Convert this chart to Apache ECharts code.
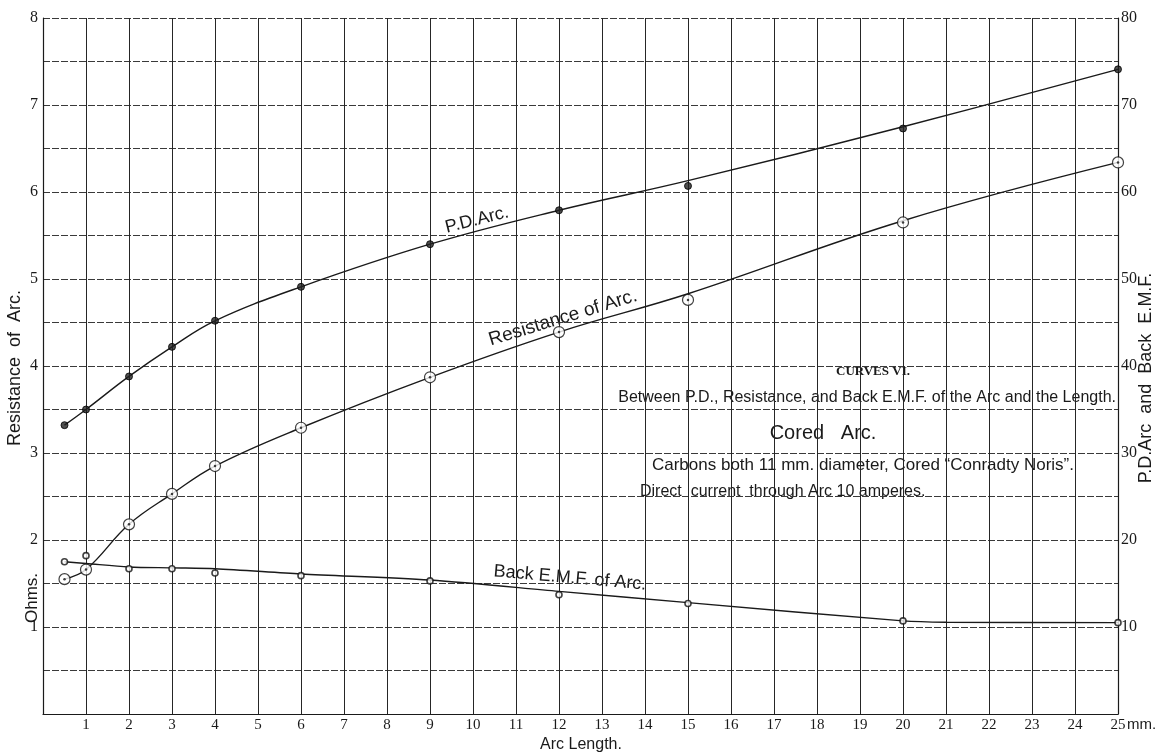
<!DOCTYPE html>
<html>
<head>
<meta charset="utf-8">
<script src="https://cdn.jsdelivr.net/npm/echarts@6/dist/echarts.min.js"></script>
<style>
html,body{margin:0;padding:0;background:#fff;}
#chart{width:1160px;height:755px;}
</style>
</head>
<body>
<div id="chart"></div>
<script>
// ---- data ----
const arcLength = [0.5, 1, 2, 3, 4, 6, 9, 12, 15, 20, 25];            // mm
const pdArcPoints = [33.2, 35.0, 38.8, 42.2, 45.2, 49.1, 54.0, 57.9, 60.7, 67.3, 74.1]; // volts
const resistancePoints = [1.55, 1.66, 2.18, 2.53, 2.85, 3.29, 3.87, 4.39, 4.76, 5.65, 6.34]; // ohms
const backEmfPoints = [17.5, 18.2, 16.7, 16.7, 16.2, 15.9, 15.3, 13.7, 12.7, 10.7, 10.5]; // volts

// hand-drawn mean curves
const pdArcCurve = [33.2, 35.0, 38.8, 42.2, 45.2, 49.1, 54.0, 57.9, 61.3, 67.5, 74.1];
const resistanceCurve = [1.55, 1.66, 2.18, 2.53, 2.85, 3.29, 3.87, 4.39, 4.83, 5.67, 6.34];
const backEmfCurveX = [0.5, 1, 2, 3, 4, 6, 9, 12, 15, 20, 21, 25];
const backEmfCurve = [17.5, 17.3, 16.9, 16.8, 16.7, 16.1, 15.4, 14.1, 12.8, 10.7, 10.55, 10.5];

// tick labels
const xTickLabels = ['1','2','3','4','5','6','7','8','9','10','11','12','13','14','15','16','17','18','19','20','21','22','23','24','25'];
const xUnitLabel = 'mm.';
const leftTickLabels = ['1','2','3','4','5','6','7','8'];
const rightTickLabels = ['10','20','30','40','50','60','70','80'];

const pairs = (xs, ys) => xs.map((x, i) => [x, ys[i]]);

const SERIF = '"Liberation Serif", "DejaVu Serif", serif';
const SANS = '"Liberation Sans", "DejaVu Sans", sans-serif';
const INK = '#1a1a1a';

const chart = echarts.init(document.getElementById('chart'), null, {renderer: 'canvas'});

const textStyle = (txt, size, align) => ({
  text: txt, font: size + 'px ' + SANS, fill: INK,
  textAlign: align || 'center', textVerticalAlign: 'middle', verticalAlign: 'middle'
});

const option = {
  backgroundColor: '#ffffff',
  animation: false,
  grid: {left: 43, right: 42, top: 18, bottom: 41, containLabel: false},
  xAxis: {
    type: 'value', min: 0, max: 25, interval: 1,
    axisLine: {show: true, onZero: false, lineStyle: {color: INK, width: 1.2}},
    axisTick: {show: false},
    splitLine: {show: true, lineStyle: {color: '#262626', width: 1}},
    axisLabel: {
      margin: 4, color: INK, fontFamily: SERIF, fontSize: 15,
      showMinLabel: false, showMaxLabel: true, hideOverlap: false,
      formatter: function (v) {
        return v >= 1 ? xTickLabels[v - 1] : '';
      }
    }
  },
  yAxis: [
    {
      type: 'value', min: 0, max: 8, interval: 0.5,
      axisLine: {show: true, onZero: false, lineStyle: {color: INK, width: 1.2}},
      axisTick: {show: false},
      splitLine: {show: true, lineStyle: {color: '#3a3a3a', width: 1, type: [7, 2]}},
      axisLabel: {
        margin: 5, color: INK, fontFamily: SERIF, fontSize: 16, showMaxLabel: true,
        formatter: function (v) {
          return (Number.isInteger(v) && v >= 1) ? leftTickLabels[v - 1] : '';
        }
      }
    },
    {
      type: 'value', min: 0, max: 80, interval: 5, position: 'right',
      axisLine: {show: true, onZero: false, lineStyle: {color: INK, width: 1.2}},
      axisTick: {show: false},
      splitLine: {show: false},
      axisLabel: {
        margin: 3, color: INK, fontFamily: SERIF, fontSize: 16, showMaxLabel: true,
        formatter: function (v) {
          return (v % 10 === 0 && v >= 10) ? rightTickLabels[v / 10 - 1] : '';
        }
      }
    }
  ],
  series: [
    {
      name: 'P.D. Arc curve', type: 'line', yAxisIndex: 1, smooth: 0.4,
      showSymbol: false, data: pairs(arcLength, pdArcCurve),
      lineStyle: {color: INK, width: 1.4}, z: 3
    },
    {
      name: 'Resistance curve', type: 'line', yAxisIndex: 0, smooth: 0.4,
      showSymbol: false, data: pairs(arcLength, resistanceCurve),
      lineStyle: {color: INK, width: 1.4}, z: 3
    },
    {
      name: 'Back E.M.F. curve', type: 'line', yAxisIndex: 1, smooth: 0.3,
      showSymbol: false, data: pairs(backEmfCurveX, backEmfCurve),
      lineStyle: {color: INK, width: 1.4}, z: 3
    },
    {
      name: 'P.D. Arc', type: 'scatter', yAxisIndex: 1, symbol: 'circle', symbolSize: 7,
      data: pairs(arcLength, pdArcPoints),
      itemStyle: {color: '#222', borderColor: '#000', borderWidth: 1}, z: 5
    },
    {
      name: 'Resistance of Arc', type: 'scatter', yAxisIndex: 0, symbol: 'circle', symbolSize: 11,
      data: pairs(arcLength, resistancePoints),
      itemStyle: {color: '#fff', borderColor: '#111', borderWidth: 1.2}, z: 5
    },
    {
      name: 'Resistance of Arc centre', type: 'scatter', yAxisIndex: 0, symbol: 'circle', symbolSize: 2.5,
      data: pairs(arcLength, resistancePoints),
      itemStyle: {color: '#111'}, z: 6
    },
    {
      name: 'Back E.M.F. of Arc', type: 'scatter', yAxisIndex: 1, symbol: 'circle', symbolSize: 6,
      data: pairs(arcLength, backEmfPoints),
      itemStyle: {color: '#fff', borderColor: '#111', borderWidth: 1.6}, z: 5
    }
  ],
  graphic: [
    // axis titles
    {type: 'text', x: 15, y: 368, rotation: Math.PI / 2, style: textStyle('Resistance  of  Arc.', 18)},
    {type: 'text', x: 32, y: 598, rotation: Math.PI / 2, style: textStyle('Ohms.', 17)},
    {type: 'text', x: 1146, y: 378, rotation: Math.PI / 2, style: textStyle('P.D.Arc  and  Back  E.M.F.', 18)},
    {type: 'text', x: 581, y: 745, style: textStyle('Arc Length.', 16)},
    {type: 'text', x: 1127, y: 725, style: textStyle(xUnitLabel, 15, 'left')},
    // curve labels
    {type: 'text', x: 477, y: 220, rotation: 0.245, style: textStyle('P.D.Arc.', 18)},
    {type: 'text', x: 563, y: 318, rotation: 0.297, style: textStyle('Resistance of Arc.', 19)},
    {type: 'text', x: 570, y: 578, rotation: -0.087, style: textStyle('Back E.M.F. of Arc.', 18)},
    // caption block
    {type: 'text', x: 873, y: 372,
      style: {text: 'CURVES VI.', font: 'bold 13px ' + SERIF, fill: INK, textAlign: 'center', textVerticalAlign: 'middle', verticalAlign: 'middle'}},
    {type: 'text', x: 1116, y: 398, style: textStyle('Between P.D., Resistance, and Back E.M.F. of the Arc and the Length.', 16, 'right')},
    {type: 'text', x: 823, y: 433, style: textStyle('Cored   Arc.', 20)},
    {type: 'text', x: 1074, y: 465, style: textStyle('Carbons both 11 mm. diameter, Cored \u201CConradty Noris\u201D.', 17, 'right')},
    {type: 'text', x: 640, y: 492, style: textStyle('Direct  current  through Arc 10 amperes.', 16, 'left')}
  ]
};

chart.setOption(option);
</script>
</body>
</html>
